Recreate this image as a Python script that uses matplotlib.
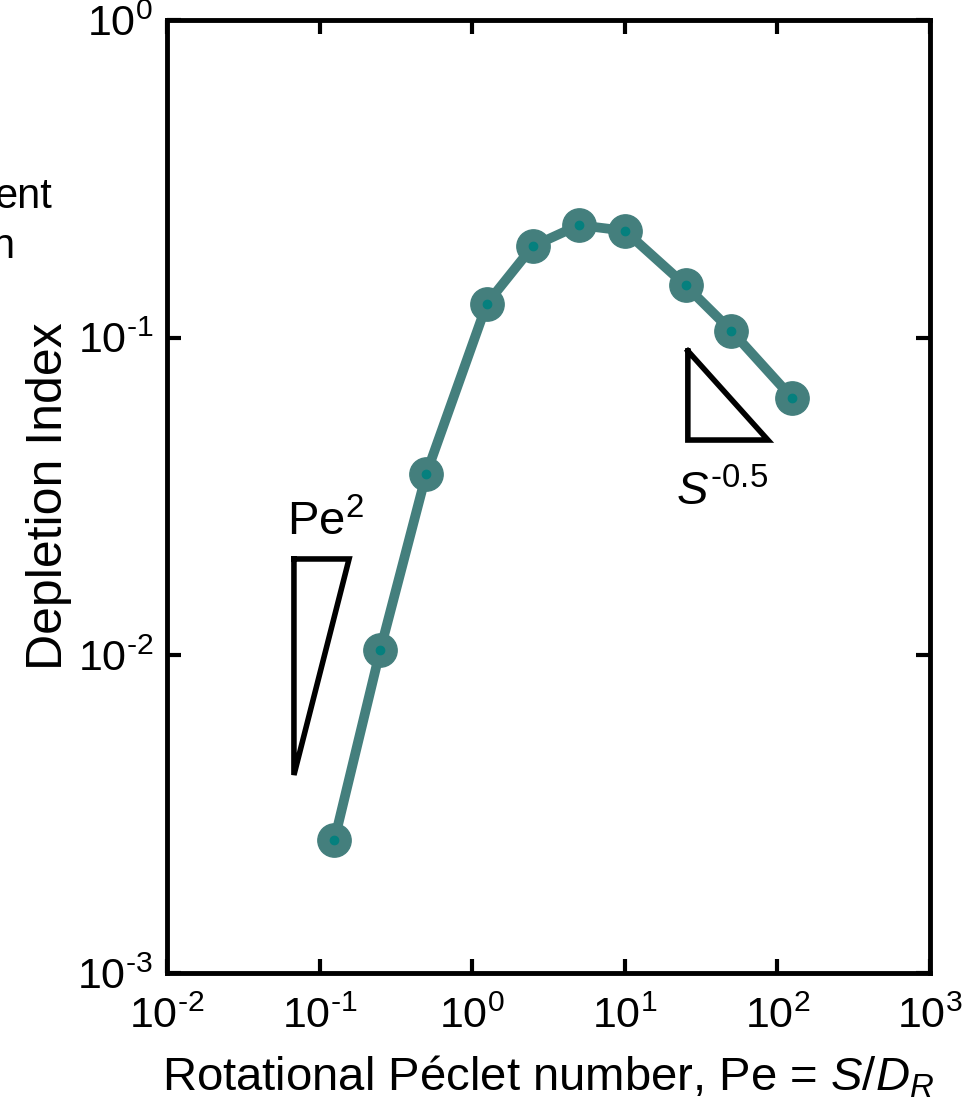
import numpy as np
import matplotlib
matplotlib.use("Agg")
import matplotlib.pyplot as plt
from matplotlib.ticker import NullLocator

plt.rcParams['font.family'] = ['Liberation Sans', 'DejaVu Sans']
plt.rcParams['mathtext.fontset'] = 'custom'
plt.rcParams['mathtext.rm'] = 'Liberation Sans'
plt.rcParams['mathtext.it'] = 'Liberation Sans:italic'

# rotational Peclet number vs depletion index
pe = [0.125, 0.25, 0.5, 1.25, 2.5, 5, 10, 25, 50, 125]
depletion = [0.00262, 0.0104, 0.0372, 0.128, 0.194, 0.226, 0.217, 0.146, 0.105, 0.0646]

x_exps = [-2, -1, 0, 1, 2, 3]
y_exps = [-3, -2, -1, 0]


def pow_label(e):
    # plain hyphen like the original, not the math minus
    s = str(e).replace('-', r'\text{-}')
    return r'$\mathregular{10^{%s}}$' % s


x_ticklabels = [pow_label(e) for e in x_exps]
y_ticklabels = [pow_label(e) for e in y_exps]

outer_color = '#447f7d'
inner_color = '#05807e'

fig = plt.figure(figsize=(9.67, 11.14), dpi=100)
ax = fig.add_axes([0.1727, 0.1266, 0.789, 0.8555])

ax.plot(pe, depletion, color=outer_color, lw=7, marker='o', ms=24,
        mfc=outer_color, mec=outer_color, solid_capstyle='round')
ax.plot(pe, depletion, ls='none', marker='o', ms=6, color=inner_color)

ax.set_xscale('log')
ax.set_yscale('log')
ax.set_xlim(10.0 ** x_exps[0], 10.0 ** x_exps[-1])
ax.set_ylim(10.0 ** y_exps[0], 10.0 ** y_exps[-1])
ax.set_xticks([10.0 ** e for e in x_exps], x_ticklabels)
ax.set_yticks([10.0 ** e for e in y_exps], y_ticklabels)
ax.xaxis.set_minor_locator(NullLocator())
ax.yaxis.set_minor_locator(NullLocator())

ax.tick_params(which='major', direction='in', top=True, right=True,
               length=10, width=3, labelsize=31)
ax.tick_params(axis='x', pad=17)
ax.tick_params(axis='y', pad=10)
for sp in ax.spines.values():
    sp.set_linewidth(3.5)

ax.set_xlabel(r'Rotational Péclet number, Pe = $S$/$D_R$', fontsize=34, labelpad=12)
ax.set_ylabel('Depletion Index', fontsize=36, labelpad=4)

# slope triangles
ax.plot([0.0679, 0.156, 0.0679, 0.0679], [0.0201, 0.0201, 0.0042, 0.0201],
        color='black', lw=4, solid_joinstyle='miter', clip_on=False)
ax.text(0.110, 0.0239, r'Pe$^{\mathregular{2}}$', fontsize=34, ha='center', va='baseline')

ax.plot([25.9, 25.9, 86.7, 25.9], [0.0908, 0.0476, 0.0476, 0.0908],
        color='black', lw=4, solid_joinstyle='miter')
ax.text(43.4, 0.0297, r'$S^{\mathregular{\text{-}0.5}}$', fontsize=34, ha='center', va='baseline')

# clipped text from the neighbouring panel
fig.text(52 / 967, 1 - 208 / 1114, 'ent', fontsize=30, ha='right', va='baseline')
fig.text(14 / 967, 1 - 258 / 1114, 'n', fontsize=30, ha='right', va='baseline')

fig.savefig('out.png', dpi=100)
